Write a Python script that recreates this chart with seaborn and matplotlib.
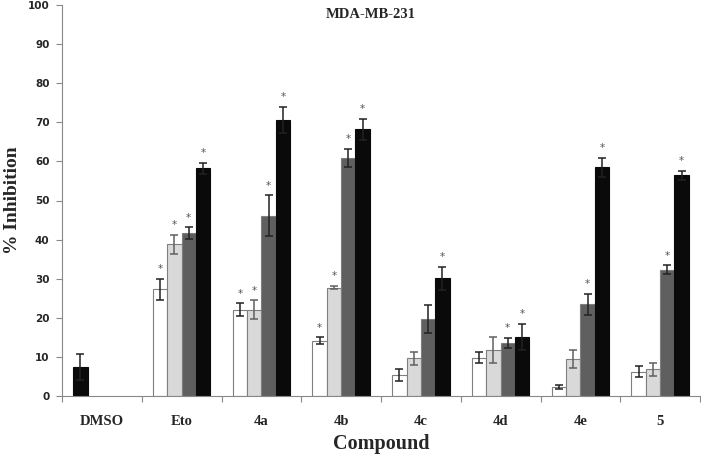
import numpy as np
import pandas as pd
import seaborn as sns
import matplotlib.pyplot as plt
from matplotlib.ticker import MultipleLocator

# data (% inhibition, mean and error)
compounds = ["DMSO", "Eto", "4a", "4b", "4c", "4d", "4e", "5"]
series = ["s1", "s2", "s3", "s4"]

s1_mean = [7.4, 27.3, 22.1, 14.1, 5.4, 9.8, 2.4, 6.2]
s1_err = [3.3, 2.7, 1.6, 0.9, 1.5, 1.4, 0.5, 1.4]
s2_mean = [np.nan, 38.8, 22.1, 27.7, 9.6, 11.7, 9.5, 6.8]
s2_err = [np.nan, 2.5, 2.4, 0.4, 1.6, 3.3, 2.3, 1.6]
s3_mean = [np.nan, 41.6, 46.1, 60.9, 19.7, 13.5, 23.5, 32.3]
s3_err = [np.nan, 1.5, 5.2, 2.3, 3.7, 1.3, 2.7, 1.1]
s4_mean = [np.nan, 58.2, 70.6, 68.2, 30.1, 15.1, 58.5, 56.4]
s4_err = [np.nan, 1.5, 3.3, 2.6, 3.0, 3.4, 2.4, 1.1]

# significance stars
s1_sig = [0, 1, 1, 1, 0, 0, 0, 0]
s2_sig = [0, 1, 1, 1, 0, 0, 0, 0]
s3_sig = [0, 1, 1, 1, 0, 1, 1, 1]
s4_sig = [0, 1, 1, 1, 1, 1, 1, 1]

means = [s1_mean, s2_mean, s3_mean, s4_mean]
errs = [s1_err, s2_err, s3_err, s4_err]
sigs = [s1_sig, s2_sig, s3_sig, s4_sig]

rows = []
for si, name in enumerate(series):
    for ci, comp in enumerate(compounds):
        rows.append({"Compound": comp, "series": name, "value": means[si][ci],
                     "err": errs[si][ci], "sig": sigs[si][ci]})
df = pd.DataFrame(rows)

sns.set_theme(style="white")

fig = plt.figure(figsize=(7.01, 4.57), dpi=100)
ax = fig.add_axes([62 / 701, 61 / 457, 638 / 701, 391 / 457])

colors = ["#ffffff", "#d9d9d9", "#5f5f5f", "#0a0a0a"]
bw = 0.72
sns.barplot(data=df.dropna(subset=["value"]), x="Compound", y="value", hue="series",
            order=compounds, hue_order=series, palette=colors, width=bw,
            gap=0, errorbar=None, legend=False, ax=ax,
            edgecolor="#7f7f7f", linewidth=0.8)

lookup = {(r.Compound, r.series): r for r in df.itertuples()}
step = bw / len(series)
for bar in ax.patches:
    h = bar.get_height()
    if np.isnan(h) or h == 0:
        continue
    xc = bar.get_x() + bar.get_width() / 2
    ci = int(round(xc))
    si = int(round((xc - ci + bw / 2 - step / 2) / step))
    comp = compounds[ci]
    r = lookup[(comp, series[si])]
    if comp == "DMSO":
        bar.set_facecolor("#0a0a0a")
    if si == 3 or comp == "DMSO":
        bar.set_edgecolor("#0a0a0a")
    ecol = "#606060" if si == 1 else "#222222"
    ax.errorbar(xc, h, yerr=r.err, fmt="none", ecolor=ecol,
                elinewidth=1.1, capsize=3, capthick=1.1)
    if r.sig:
        ax.text(xc, h + r.err + 1.2, "*", ha="center", va="bottom",
                fontsize=7.5, color="#555555")

ax.set_ylim(0, 100)
ax.set_xlim(-0.5, len(compounds) - 0.5)
ax.yaxis.set_major_locator(MultipleLocator(10))
ax.set_xticks(range(len(compounds)))
ax.set_xticks(np.arange(-0.5, len(compounds), 1), minor=True)
ax.tick_params(axis="x", which="major", length=0, pad=14)
ax.tick_params(axis="x", which="minor", length=4, color="#888888", width=0.8,
               bottom=True, direction="out")
ax.tick_params(axis="y", left=True, direction="out", length=4, color="#888888",
               width=0.8, pad=5)

for lab in ax.get_yticklabels():
    lab.set_fontweight("bold")
    lab.set_fontsize(7.5)
    lab.set_family("DejaVu Sans")
for lab in ax.get_xticklabels():
    lab.set_fontweight("bold")
    lab.set_fontsize(10.5)
    lab.set_family("Liberation Serif")

for side in ["top", "right"]:
    ax.spines[side].set_visible(False)
for side in ["left", "bottom"]:
    ax.spines[side].set_color("#888888")
    ax.spines[side].set_linewidth(0.8)

ax.set_xlabel("Compound", fontsize=14.5, fontweight="bold", family="Liberation Serif",
              labelpad=4)
ax.set_ylabel("% Inhibition", fontsize=14, fontweight="bold", family="Liberation Serif",
              labelpad=5)
ax.text(0.484, 0.975, "MDA-MB-231", transform=ax.transAxes, ha="center", va="center",
        fontsize=10.5, fontweight="bold", family="Liberation Serif")

fig.savefig("out.png", dpi=100)
